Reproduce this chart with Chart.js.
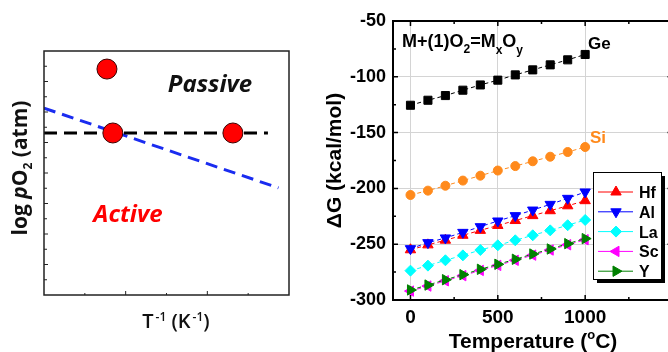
<!DOCTYPE html>
<html>
<head>
<meta charset="utf-8">
<script src="https://cdn.jsdelivr.net/npm/chart.js@4/dist/chart.umd.min.js"></script>
<style>
  html, body { margin: 0; padding: 0; background: #fff; overflow: hidden; width: 668px; height: 352px; }
  #left { position: absolute; left: 0; top: 0; }
  #right { position: absolute; left: 300px; top: 0; }
</style>
</head>
<body>
<canvas id="left" width="300" height="352"></canvas>
<canvas id="right" width="380" height="352"></canvas>
<script>
// ---- left panel: schematic log pO2 vs 1/T (arbitrary units 0..10)
const pointX = [2.57, 2.81, 7.71];
const pointY = [9.26, 6.64, 6.64];
const eqLineX = [0, 9.14];
const eqLineY = [6.64, 6.64];
const slopeLineX = [0, 9.57];
const slopeLineY = [7.66, 4.39];

// ---- right panel: Gibbs energy of oxide formation
const temps = [0, 100, 200, 300, 400, 500, 600, 700, 800, 900, 1000];
const geG = [-125.5, -121, -116.8, -112, -107.3, -103, -98.3, -93.8, -89.3, -84.8, -80];
const siG = [-205.9, -202, -197.6, -193, -188.6, -184, -180, -175.7, -171.6, -167.4, -162.9];
const hfG = [-255, -250.6, -246.4, -242, -237.6, -233.2, -228.8, -224.4, -220, -215.6, -211];
const alG = [-254, -248.6, -244.4, -239.4, -234.3, -229.2, -224.4, -219.4, -214.3, -208.9, -203.2];
const laG = [-273.7, -269.2, -264.4, -260, -255.2, -251, -246.5, -242, -237.6, -233, -228.3];
const scG = [-292, -287.5, -282.8, -278.2, -273.5, -269, -264.4, -259.8, -255.2, -250.5, -246];
const yG  = [-291, -286.6, -281.8, -277.3, -272.5, -268, -263.5, -258.8, -254.3, -249.5, -245];
const xTicks = [0, 500, 1000];
const xMinor = [250, 750, 1250];
const yTicks = [-300, -250, -200, -150, -100, -50];
const yMinor = [-275, -225, -175, -125, -75];

const pts = (xs, ys) => xs.map((v, i) => ({ x: v, y: ys[i] }));

// draws a run of text pieces: [text, font, dy]
function drawParts(ctx, parts, x, y, align) {
  let w = 0;
  parts.forEach(p => { ctx.font = p[1]; w += ctx.measureText(p[0]).width; });
  let cx = align === 'center' ? x - w / 2 : x;
  ctx.textAlign = 'left';
  ctx.textBaseline = 'alphabetic';
  parts.forEach(p => {
    ctx.font = p[1];
    ctx.fillText(p[0], cx, y + (p[2] || 0));
    cx += ctx.measureText(p[0]).width;
  });
}

const leftDecor = {
  id: 'leftDecor',
  afterDraw(chart) {
    const { ctx, chartArea: a, scales: { x, y } } = chart;
    ctx.save();
    ctx.strokeStyle = '#222';
    ctx.lineWidth = 1.5;
    ctx.strokeRect(a.left, a.top, a.right - a.left, a.bottom - a.top);
    ctx.lineWidth = 1;
    ctx.beginPath();
    for (let k = 1; k < 6; k++) {
      const px = x.getPixelForValue(k * 10 / 6);
      const len = k % 2 === 0 ? 4 : 2;
      ctx.moveTo(px, a.bottom); ctx.lineTo(px, a.bottom - len);
    }
    for (let k = 1; k < 16; k++) {
      const py = y.getPixelForValue(k * 10 / 16);
      const len = k % 2 === 0 ? 4 : 3;
      ctx.moveTo(a.left, py); ctx.lineTo(a.left + len, py);
    }
    ctx.stroke();

    ctx.fillStyle = '#111';
    drawParts(ctx, [['Passive', 'italic bold 24px "Open Sans"']], 210, 92, 'center');
    ctx.fillStyle = '#ff0000';
    drawParts(ctx, [['Active', 'italic bold 24px "Open Sans"']], 128, 222, 'center');

    ctx.fillStyle = '#111';
    const f = 'bold 21px "Open Sans"';
    ctx.save();
    ctx.translate(20, 168);
    ctx.rotate(-Math.PI / 2);
    drawParts(ctx, [['log ', f], ['p', 'italic ' + f], ['O', f], ['2', 'bold 12px "Open Sans"', 5], [' (atm)', f]], 0, 7, 'center');
    ctx.restore();

    const r = '600 20px "Open Sans"', s = '600 12px "Open Sans"';
    drawParts(ctx, [['T', r], ['\u2009-1', s, -7], [' (K', r], ['\u2009-1', s, -7], [')', r]], 176, 328, 'center');
    ctx.restore();
  }
};

new Chart(document.getElementById('left'), {
  type: 'scatter',
  data: {
    datasets: [
      { data: pts(pointX, pointY), pointRadius: 10, pointBackgroundColor: '#ff0000',
        pointBorderColor: '#3a0000', pointBorderWidth: 1, showLine: false, order: 0 },
      { data: pts(eqLineX, eqLineY), showLine: true, borderColor: '#000', borderWidth: 3,
        borderDash: [13, 7], pointRadius: 0, order: 1 },
      { data: pts(slopeLineX, slopeLineY), showLine: true, borderColor: '#1a2cf0', borderWidth: 3,
        borderDash: [12, 7], pointRadius: 0, order: 2 }
    ]
  },
  options: {
    responsive: false,
    animation: false,
    layout: { padding: { left: 44, right: 7, top: 51, bottom: 57 } },
    plugins: { legend: { display: false }, tooltip: { enabled: false } },
    scales: {
      x: { display: false, min: 0, max: 10 },
      y: { display: false, min: 0, max: 10 }
    }
  },
  plugins: [leftDecor]
});

const rightDecor = {
  id: 'rightDecor',
  afterDraw(chart) {
    const { ctx, chartArea: a, scales: { x, y } } = chart;
    ctx.save();
    ctx.strokeStyle = '#000';
    ctx.lineWidth = 2;
    ctx.beginPath();
    ctx.moveTo(a.left, a.top); ctx.lineTo(a.right, a.top); ctx.lineTo(a.right, a.bottom);
    ctx.stroke();
    ctx.lineWidth = 1.5;
    ctx.beginPath();
    const tx = (v, len) => {
      const px = x.getPixelForValue(v);
      ctx.moveTo(px, a.bottom); ctx.lineTo(px, a.bottom - len);
      ctx.moveTo(px, a.top); ctx.lineTo(px, a.top + len);
    };
    const ty = (v, len) => {
      const py = y.getPixelForValue(v);
      ctx.moveTo(a.left, py); ctx.lineTo(a.left + len, py);
      ctx.moveTo(a.right, py); ctx.lineTo(a.right - len, py);
    };
    xTicks.forEach(v => tx(v, 5));
    xMinor.forEach(v => tx(v, 3));
    yTicks.slice(1, -1).forEach(v => ty(v, 5));
    yMinor.forEach(v => ty(v, 3));
    ctx.stroke();

    // annotations
    ctx.fillStyle = '#000';
    const b = 'bold 18px "Liberation Sans"', sb = 'bold 12px "Liberation Sans"';
    drawParts(ctx, [['M+(1)O', b], ['2', sb, 6], ['=M', b], ['x', sb, 7], ['O', b], ['y', sb, 7]], 102, 47);
    drawParts(ctx, [['Ge', 'bold 17px "Liberation Sans"']], 288, 49);
    ctx.fillStyle = '#ff8a1c';
    drawParts(ctx, [['Si', 'bold 17px "Liberation Sans"']], 290, 143);

    // x title
    ctx.fillStyle = '#000';
    const t = 'bold 21px "Liberation Sans"';
    drawParts(ctx, [['Temperature (', t], ['o', 'bold 13px "Liberation Sans"', -9], ['C)', t]], 233, 348, 'center');

    // legend
    const bx = 293, by = 172, bw = 68, bh = 107;
    ctx.fillStyle = '#000';
    ctx.fillRect(bx + 4, by + 4, bw, bh);
    ctx.fillStyle = '#fff';
    ctx.fillRect(bx, by, bw, bh);
    ctx.lineWidth = 1;
    ctx.strokeStyle = '#000';
    ctx.strokeRect(bx + 0.5, by + 0.5, bw, bh);
    const rows = chart.data.datasets.filter(d => d.inLegend);
    rows.forEach((d, i) => {
      const ry = 192 + i * 19.8;
      ctx.strokeStyle = d.borderColor;
      ctx.beginPath();
      ctx.moveTo(298, ry); ctx.lineTo(333, ry);
      ctx.stroke();
      ctx.fillStyle = d.pointBackgroundColor;
      Chart.helpers.drawPoint(ctx, { pointStyle: d.pointStyle, radius: d.pointRadius,
        rotation: d.pointRotation || 0, borderWidth: 1 }, 316, ry);
      ctx.fillStyle = '#000';
      drawParts(ctx, [[d.label, 'bold 16px "Liberation Sans"']], 339, ry + 6);
    });
    ctx.restore();
  }
};

function series(label, ys, color, style, radius, rotation, order, inLegend) {
  return {
    label, data: pts(temps, ys), showLine: true, borderColor: color, borderWidth: 1,
    borderDash: [4, 3], pointStyle: style, pointRadius: radius, pointRotation: rotation,
    pointBackgroundColor: color, pointBorderColor: color, pointBorderWidth: 1,
    order, inLegend
  };
}

new Chart(document.getElementById('right'), {
  type: 'scatter',
  data: {
    datasets: [
      series('Ge', geG, '#000000', 'rect', 5.7, 0, 6, false),
      series('Si', siG, '#ff8a1c', 'circle', 4.5, 0, 5, false),
      series('Hf', hfG, '#ff0000', 'triangle', 6, 0, 4, true),
      series('Al', alG, '#0000ff', 'triangle', 6, 180, 3, true),
      series('La', laG, '#00ffff', 'rectRot', 5.5, 0, 2, true),
      series('Sc', scG, '#ff00ff', 'triangle', 6, -90, 1, true),
      series('Y', yG, '#008000', 'triangle', 6, 90, 0, true)
    ]
  },
  options: {
    responsive: false,
    animation: false,
    layout: { padding: { left: 0, right: 7.5, top: 21, bottom: 0 } },
    plugins: { legend: { display: false }, tooltip: { enabled: false } },
    scales: {
      x: {
        min: -100, max: 1500,
        afterBuildTicks: s => { s.ticks = xTicks.map(v => ({ value: v })); },
        afterFit: s => { s.height = 52; },
        ticks: { color: '#000', padding: 6, callback: v => String(v),
          font: { family: 'Liberation Sans', weight: 'bold', size: 19 } },
        grid: { drawTicks: false, color: '#d4d4d4', lineWidth: 1 },
        border: { color: '#000', width: 2 }
      },
      y: {
        min: -300, max: -50,
        afterBuildTicks: s => { s.ticks = yTicks.map(v => ({ value: v })); },
        afterFit: s => { s.width = 93; },
        ticks: { color: '#000', padding: 7, callback: v => String(v),
          font: { family: 'Liberation Sans', weight: 'bold', size: 18 } },
        grid: { drawTicks: false, lineWidth: 1,
          color: c => (c.tick && (c.tick.value === -300 || c.tick.value === -50)) ? 'rgba(0,0,0,0)' : '#d4d4d4' },
        border: { color: '#000', width: 2 },
        title: { display: true, text: 'ΔG (kcal/mol)', color: '#000', padding: { top: 23, bottom: 0 },
          font: { family: 'Liberation Sans', weight: 'bold', size: 21 } }
      }
    }
  },
  plugins: [rightDecor]
});
</script>
</body>
</html>
